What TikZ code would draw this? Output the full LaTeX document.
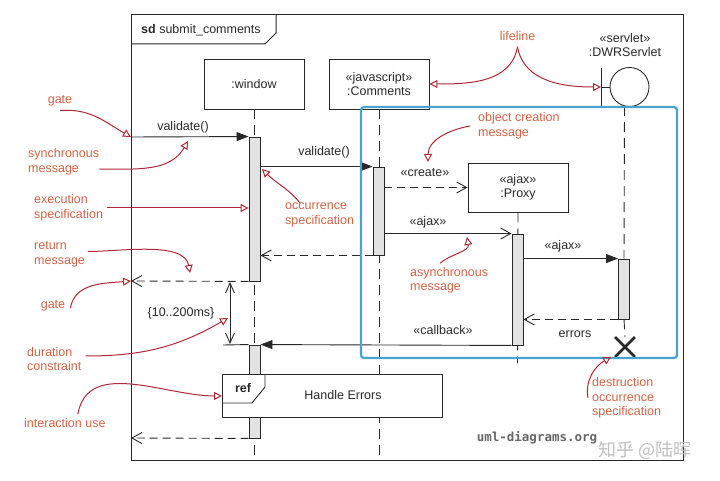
\documentclass[tikz,border=0pt]{standalone}
\usepackage{fontspec}
\setmainfont{Liberation Sans}
\newfontfamily\cjkfont{Noto Sans CJK SC}
\newfontfamily\wmfont{DejaVu Sans Mono}
\usepackage{tikz}
\usetikzlibrary{arrows.meta,shapes.misc}
\definecolor{notetext}{RGB}{212,98,68}
\definecolor{notecurve}{RGB}{175,40,55}
\definecolor{fragblue}{RGB}{72,163,206}
\definecolor{barfill}{RGB}{226,226,226}
\definecolor{ink}{RGB}{40,40,40}
\tikzset{
	txt/.style={font=\fontsize{12.5}{14.5}\selectfont, text=ink, inner sep=0pt},
	note/.style={font=\fontsize{12.5}{14.5}\selectfont, text=notetext, align=left, inner sep=0pt},
	ann/.style={draw=notecurve, line width=1pt, -{Triangle[open,length=8pt,width=8pt]}},
	objbox/.style={txt, draw=ink, line width=0.9pt, minimum width=100pt, minimum height=50pt, align=center},
	actbar/.style={draw=ink, fill=barfill, line width=0.9pt, minimum width=11pt, inner sep=0pt},
	lifel/.style={draw=ink, line width=0.9pt, dash pattern=on 10pt off 6pt},
	syncmsg/.style={draw=ink, line width=0.9pt, -{Triangle[length=12pt,width=9pt]}},
	asyncmsg/.style={draw=ink, line width=0.9pt, -{Straight Barb[length=10pt,width=11pt]}},
	retmsg/.style={asyncmsg, dash pattern=on 8pt off 5pt},
}

\begin{document}
\begin{tikzpicture}[x=1pt,y=-1pt]
	%%%%% START %%%%%
	\useasboundingbox (0,0) rectangle (720,481);
	
	% frame
	\draw[ink, line width=1pt] (131,15) rectangle (683,460);
	\draw[ink, line width=1pt] (131,44) -- (265,44) -- (276,33) -- (276,15);
	\node[txt, anchor=west] (title) at (141,30) {\textbf{sd} submit\_comments};
	
	% heads
	\node[objbox] (win) at (254,84) {:window};
	\node[objbox] (com) at (379,84) {«javascript»\\:Comments};
	\node[objbox, minimum height=49pt] (prx) at (518,187.5) {«ajax»\\:Proxy};
	\node[txt, align=center] (dwr) at (625,45) {«servlet»\\:DWRServlet};
	\node[draw=ink, line width=0.9pt, circle, minimum size=39pt, inner sep=0pt] (dwrc) at (629.5,87) {};
	\coordinate (dwrbar) at (601,87);
	\draw[ink, line width=0.9pt] (601,68) -- (601,106);
	\draw[ink, line width=0.9pt] (dwrbar) -- (dwrc.west);
	\coordinate (dwrl) at (624.5,106);
	
	% lifelines
	\draw[lifel] (win.south) -- (254,460);
	\draw[lifel] (com.south) -- (379,460);
	\draw[lifel] (prx.south) -- (517.5,363);
	
	% bars
	\node[actbar, minimum height=144pt] (wb1) at (254.5,209) {};
	\node[actbar, minimum height=93pt] (wb2) at (254.5,391.5) {};
	\node[actbar, minimum height=88pt] (cb) at (378.5,211) {};
	\node[actbar, minimum height=111pt] (pb) at (517.5,289.5) {};
	\node[actbar, minimum height=60pt] (db) at (624,289) {};
	\node[draw=ink, cross out, line width=2.8pt, minimum size=17pt, inner sep=0pt] (dx) at (625,347) {};
	\draw[lifel] (dwrl) -- (db.north);
	\draw[lifel] (db.south) -- (dx.north);
	
	% messages
	\coordinate (gin) at (131,137);
	\coordinate (gout1) at (131,281);
	\coordinate (gout2) at (131,438);
	\draw[syncmsg] (gin) -- (wb1.north west);
	\node[txt] (lval1) at (183,127) {validate()};
	\draw[syncmsg] (cb.north west -| wb1.east) -- (cb.north west);
	\node[txt] (lval2) at (324,152) {validate()};
	\draw[retmsg] (prx.west -| cb.east) -- (prx.west);
	\node[txt] (lcreate) at (425,173) {«create»};
	\draw[asyncmsg] (pb.north west -| cb.east) -- (pb.north west);
	\node[txt] (lajax1) at (428,222) {«ajax»};
	\draw[retmsg] (cb.south west) -- (cb.south west -| wb1.east);
	\draw[retmsg] (wb1.south west) -- (gout1);
	\draw[syncmsg] (db.north west -| pb.east) -- (db.north west);
	\node[txt] (lajax2) at (563,246) {«ajax»};
	\draw[retmsg] (db.south west) -- (db.south west -| pb.east);
	\node[txt] (lerr) at (575,334) {errors};
	\draw[syncmsg] (pb.south west) -- (wb2.north east);
	\node[txt] (lcall) at (443,330) {«callback»};
	\draw[retmsg] (wb2.south west) -- (gout2);
	
	% duration
	\coordinate (dtop) at (230,282);
	\coordinate (dbot) at (230,344);
	\draw[ink, line width=0.9pt] (223,345) -- (wb2.north west);
	\draw[ink, line width=0.9pt, {Straight Barb[length=10pt,width=9pt]}-{Straight Barb[length=10pt,width=9pt]}] (dtop) -- (dbot);
	\node[txt] (ldur) at (181,313) {\{10..200ms\}};
	
	% ref
	\node[draw=ink, fill=white, line width=0.9pt, anchor=north west, minimum width=220pt, minimum height=43pt] (ref) at (222,374) {};
	\draw[ink, line width=0.9pt] (ref.north west) ++(0,29) -- ++(30,0) -- (265,387) -- (265,374);
	\node[txt] (lref) at (243,388) {\bfseries ref};
	\node[txt] (hdl) at (343,395) {Handle Errors};
	
	% blue box
	\draw[fragblue, line width=2.3pt, rounded corners=3pt] (361,107) rectangle (677,358);
	
	% notes
	\node[note] (ngate1) at (60,101) {gate};
	\node[note, anchor=west] (nsync) at (28,162) {synchronous\\message};
	\node[note, anchor=west] (nexec) at (34,208) {execution\\specification};
	\node[note, anchor=west] (nocc) at (285,215) {occurrence\\specification};
	\node[note, anchor=west] (nret) at (34,254.5) {return\\message};
	\node[note] (ngate2) at (53,306) {gate};
	\node[note, anchor=west] (ndur) at (27,359) {duration\\constraint};
	\node[note, anchor=west] (nuse) at (24,423) {interaction use};
	\node[note] (nlife) at (517.5,36) {lifeline};
	\node[note, anchor=west] (nobj) at (478,126) {object creation\\message};
	\node[note, anchor=west] (nasy) at (410,280.5) {asynchronous\\message};
	\node[note, anchor=west] (ndes) at (592,398) {destruction\\occurrence\\specification};
	
	\coordinate (syncp) at (188,141);
	\coordinate (occp) at (262,169);
	\coordinate (retp) at (190,273);
	\coordinate (durp) at (228,318);
	\coordinate (objp) at (428,162);
	\coordinate (asyp) at (467,237);
	
	\draw[ann] ([yshift=-4pt]ngate1.south) to[out=5,in=150] (gin);
	\draw[ann] ([yshift=-7pt]nsync.east) to[out=0,in=-120] (syncp);
	\draw[ann] ([xshift=4pt]nexec.east) -- (wb1.west |- nexec.east);
	\draw[ann] ([xshift=15pt]nocc.north west) to[out=130,in=-45] (occp);
	\draw[ann] ([xshift=3pt,yshift=3pt]nret.east) to[out=0,in=100,looseness=0.8] (retp);
	\draw[ann] ([xshift=5pt,yshift=-2pt]ngate2.east) to[out=80,in=185] (gout1);
	\draw[ann] ([xshift=4pt,yshift=3pt]ndur.east) to[out=0,in=-150] (durp);
	\draw[ann] ([xshift=13pt,yshift=4pt]nuse.north) to[out=80,in=180] (ref.west);
	\draw[ann] ([yshift=-6pt]nlife.south) to[out=-100,in=0] (com.east);
	\draw[ann] ([yshift=-6pt]nlife.south) to[out=-80,in=180] (dwrbar);
	\draw[ann] ([xshift=-8pt]nobj.west) to[out=190,in=90] (objp);
	\draw[ann] ([xshift=30pt,yshift=4pt]nasy.north west) to[out=40,in=-80] (asyp);
	\draw[ann] ([xshift=-4pt]ndes.west) to[out=100,in=-150] ([xshift=-4pt]dx.south west);
	
	% watermarks
	\node[text=black!60, font=\wmfont\bfseries\fontsize{12.5}{14}\selectfont, inner sep=0pt] (wm1) at (537,438) {uml-diagrams.org};
	\node[text=black!25, font=\cjkfont\fontsize{18}{20}\selectfont, inner sep=0pt] (wm2) at (645,450) {知乎 @陆晖};
	
	%%%%% END %%%%%
\end{tikzpicture}
\end{document}
